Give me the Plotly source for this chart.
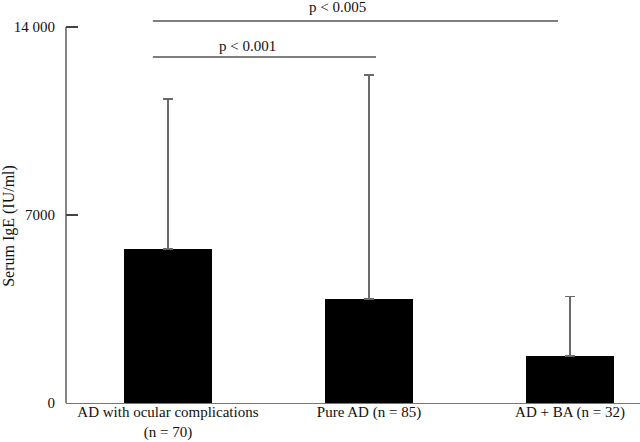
import plotly.graph_objects as go

# ---- data ----
categories = ["AD with ocular complications<br>(n = 70)", "Pure AD (n = 85)", "AD + BA (n = 32)"]
mean_ige = [5730, 3870, 1750]
sd_ige = [5590, 8350, 2210]
y_tickvals = [0, 7000, 14000]
y_ticktext = ["0", "7000", "14 000"]
# significance brackets
sig_x0 = [-0.075, -0.075]
sig_x1 = [1.035, 1.94]
sig_y = [12880, 14220]
sig_labels = ["p < 0.001", "p < 0.005"]
sig_label_x = [0.398, 0.841]
sig_label_y = [13290, 14730]

FONT = "Liberation Serif, Times New Roman, serif"
xpos = list(range(len(categories)))

fig = go.Figure()
fig.add_trace(go.Bar(
    x=xpos, y=mean_ige, width=0.437,
    marker=dict(color="black", line=dict(width=0)),
    error_y=dict(type="data", symmetric=False, array=sd_ige, arrayminus=[0] * len(sd_ige),
                 color="#6a6a6a", thickness=1.6, width=5),
    hoverinfo="skip", showlegend=False,
))

shapes = []
shapes.append(dict(type="line", xref="paper", yref="y", x0=0, x1=0, y0=0, y1=14000,
                   line=dict(color="#444", width=1.3), layer="above"))
for x0, x1, y in zip(sig_x0, sig_x1, sig_y):
    shapes.append(dict(type="line", xref="x", yref="y", x0=x0, x1=x1, y0=y, y1=y,
                       line=dict(color="#555", width=1.5)))

annotations = []
for t, lx, ly in zip(sig_labels, sig_label_x, sig_label_y):
    annotations.append(dict(x=lx, y=ly, xref="x", yref="y", text=t, showarrow=False,
                            font=dict(family=FONT, size=15, color="#111"),
                            xanchor="center", yanchor="middle"))
annotations.append(dict(x=-0.099, y=0.44, xref="paper", yref="paper", text="Serum IgE (IU/ml)",
                        textangle=-90, showarrow=False, xanchor="center", yanchor="middle",
                        font=dict(family=FONT, size=16, color="#111")))

fig.update_layout(
    width=640, height=442,
    margin=dict(l=66, r=0, t=0, b=39),
    paper_bgcolor="white", plot_bgcolor="white",
    font=dict(family=FONT, size=15, color="#111"),
    bargap=0,
    shapes=shapes, annotations=annotations,
    xaxis=dict(range=[-0.507, 2.348], tickvals=xpos, ticktext=categories,
               showline=True, linecolor="#777", linewidth=1.3, ticks="",
               automargin=False, ticklabelstandoff=-5,
               showgrid=False, zeroline=False, fixedrange=True),
    yaxis=dict(range=[0, 15005], tickvals=y_tickvals, ticktext=y_ticktext,
               showline=False, ticks="inside", ticklen=12, tickcolor="#444", tickwidth=1.2,
               ticklabelstandoff=10, automargin=False,
               showgrid=False, zeroline=False, fixedrange=True),
)

fig.write_html("out.html", config={"displayModeBar": False, "staticPlot": True},
               post_script="document.body.style.margin='0';document.body.style.overflow='hidden';")
